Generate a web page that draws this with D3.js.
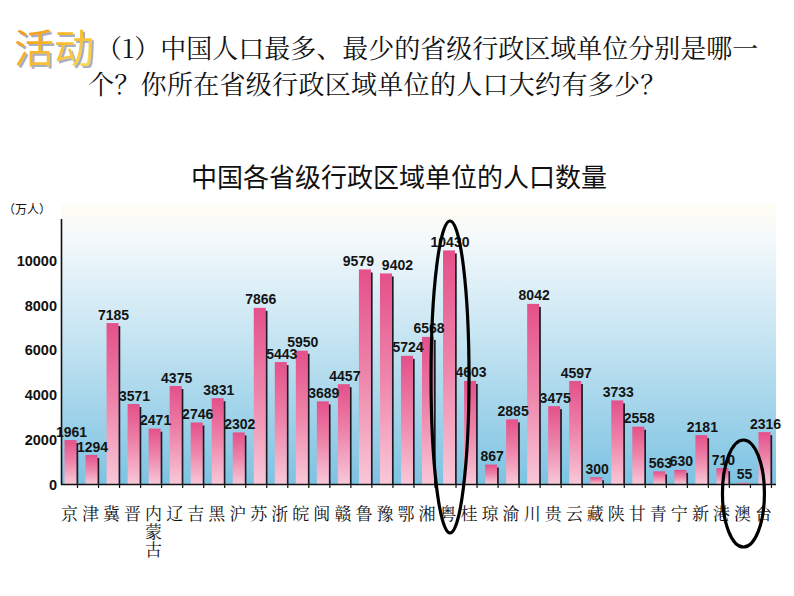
<!DOCTYPE html>
<html><head><meta charset="utf-8">
<script src="https://cdn.jsdelivr.net/npm/d3@7"></script>
<style>
html,body{margin:0;padding:0;background:#fff;}
svg{display:block;}
</style></head>
<body>
<script>
// ---- data ----
const categories = ["京","津","冀","晋","内蒙古","辽","吉","黑","沪","苏","浙","皖","闽","赣","鲁","豫","鄂","湘","粤","桂","琼","渝","川","贵","云","藏","陕","甘","青","宁","新","港","澳","台"];
const population = [1961,1294,7185,3571,2471,4375,2746,3831,2302,7866,5443,5950,3689,4457,9579,9402,5724,6568,10430,4603,867,2885,8042,3475,4597,300,3733,2558,563,630,2181,710,55,2316];
const yTicks = [0,2000,4000,6000,8000,10000];
const titleText = "中国各省级行政区域单位的人口数量";
const unitText = "（万人）";
const headTag = "活动";
const headLine1 = "（1）中国人口最多、最少的省级行政区域单位分别是哪一";
const headLine2 = "个？你所在省级行政区域单位的人口大约有多少？";

// layout-only nudges for crowded value labels (px)
const labelNudge = {"鲁": -6.5, "豫": 11.5};

const W = 794, H = 596;
const svg = d3.select("body").append("svg").attr("width", W).attr("height", H);
const defs = svg.append("defs");

const bg = defs.append("linearGradient").attr("id","bg").attr("x1",0).attr("y1",0).attr("x2",0).attr("y2",1);
[[0,"#fffdf2"],[0.12,"#f4f9fc"],[0.5,"#c2e3f1"],[1,"#7dc3e2"]].forEach(s=>bg.append("stop").attr("offset",s[0]).attr("stop-color",s[1]));
const bar = defs.append("linearGradient").attr("id","bar").attr("x1",0).attr("y1",0).attr("x2",0).attr("y2",1);
[[0,"#e4508a"],[0.5,"#ee86ab"],[1,"#f8c8d8"]].forEach(s=>bar.append("stop").attr("offset",s[0]).attr("stop-color",s[1]));
const tag = defs.append("linearGradient").attr("id","tag").attr("x1",0).attr("y1",0).attr("x2",1).attr("y2",1);
[[0,"#ee8a0a"],[0.45,"#f6b628"],[1,"#fbe25a"]].forEach(s=>tag.append("stop").attr("offset",s[0]).attr("stop-color",s[1]));
const sh = defs.append("filter").attr("id","tagShadow").attr("x","-10%").attr("y","-10%").attr("width","130%").attr("height","130%");
sh.append("feDropShadow").attr("dx",2).attr("dy",2).attr("stdDeviation",0.6).attr("flood-color","#9ea4bd").attr("flood-opacity",0.9);

const x = d3.scaleBand().domain(categories).range([61, 776]).padding(0);
const y = d3.scaleLinear().domain([0, 11850]).range([484, 218.6]);

// plot background
svg.append("rect").attr("x", 61).attr("y", 205).attr("width", 776-61).attr("height", 484-205).attr("fill","url(#bg)");

// header
svg.append("text").attr("x", 14).attr("y", 63).attr("font-family","'Noto Sans CJK SC'").attr("font-size",40)
  .attr("font-weight",400).attr("fill","url(#tag)").attr("filter","url(#tagShadow)").text(headTag);
const headFont = "'Noto Serif CJK SC','Noto Sans CJK SC'";
svg.append("text").attr("x", 96).attr("y", 58).attr("font-family",headFont).attr("font-size",26).attr("fill","#111").text(headLine1);
svg.append("text").attr("x", 88).attr("y", 94).attr("font-family",headFont).attr("font-size",26).attr("letter-spacing",0.3).attr("fill","#111").text(headLine2);

// title
svg.append("text").attr("x", 399).attr("y", 187).attr("text-anchor","middle").attr("font-family","'Noto Sans CJK SC'")
  .attr("font-size",26).attr("fill","#111").text(titleText);
svg.append("text").attr("x", 3).attr("y", 214).attr("font-family","'Noto Sans CJK SC'").attr("font-size",12).attr("fill","#111").text(unitText);

// bars
const g = svg.append("g");
const bw = 12, off = 3.5;
g.selectAll("rect.shadow").data(population).join("rect").attr("class","shadow")
  .attr("x",(d,i)=>x(categories[i])+off+bw-0.5).attr("y",d=>y(d)+3).attr("width",2.2).attr("height",d=>Math.max(0,y(0)-y(d)-3)).attr("fill","#1d1a24");
g.selectAll("rect.bar").data(population).join("rect").attr("class","bar")
  .attr("x",(d,i)=>x(categories[i])+off).attr("y",d=>y(d)).attr("width",bw).attr("height",d=>y(0)-y(d)).attr("fill","url(#bar)");

// value labels
g.selectAll("text.val").data(population).join("text").attr("class","val")
  .attr("x",(d,i)=>x(categories[i])+off+bw/2+(labelNudge[categories[i]] ?? 1)).attr("y",d=>y(d)-3.5).attr("text-anchor","middle")
  .attr("font-family","'Liberation Sans',Arial,sans-serif").attr("font-weight","bold").attr("font-size",14).attr("fill","#141414")
  .text(d=>d);

// y axis
const yAxis = d3.axisLeft(y).tickValues(yTicks).tickSize(0).tickPadding(4).tickFormat(d3.format("d"));
const ya = svg.append("g").attr("transform","translate(61,0)").call(yAxis);
ya.select(".domain").attr("stroke","#111").attr("stroke-width",1.6);
ya.selectAll("text").attr("font-family","'Liberation Sans',Arial,sans-serif").attr("font-weight","bold").attr("font-size",14.5).attr("fill","#111").attr("dy","0.36em");

// x axis line & ticks
svg.append("line").attr("x1",61).attr("x2",776).attr("y1",484.5).attr("y2",484.5).attr("stroke","#111").attr("stroke-width",1.6);
svg.selectAll("line.xt").data(categories).join("line").attr("class","xt")
  .attr("x1",d=>x(d)+16.5).attr("x2",d=>x(d)+16.5).attr("y1",484).attr("y2",488).attr("stroke","#111").attr("stroke-width",1.2);

// x labels
const xl = svg.selectAll("text.cat").data(categories).join("text").attr("class","cat")
  .attr("x",d=>x(d)+off+bw/2-1).attr("y",520).attr("text-anchor","middle")
  .attr("font-family",headFont).attr("font-size",17).attr("fill","#111");
xl.each(function(d){
  const t = d3.select(this);
  Array.from(d).forEach((ch,k)=>t.append("tspan").attr("x",x(d)+off+bw/2-1).attr("dy",k===0?0:18).text(ch));
});

// annotation ellipses
const ell = [{c:"粤", top:221, bottom:533, rx:19, dx:1},{c:"澳", top:440, bottom:547, rx:21, dx:0}];
svg.selectAll("ellipse.note").data(ell).join("ellipse").attr("class","note")
  .attr("cx",d=>x(d.c)+off+bw/2+d.dx).attr("cy",d=>(d.top+d.bottom)/2)
  .attr("rx",d=>d.rx).attr("ry",d=>(d.bottom-d.top)/2)
  .attr("fill","none").attr("stroke","#000").attr("stroke-width",3.2);
</script>
</body></html>
